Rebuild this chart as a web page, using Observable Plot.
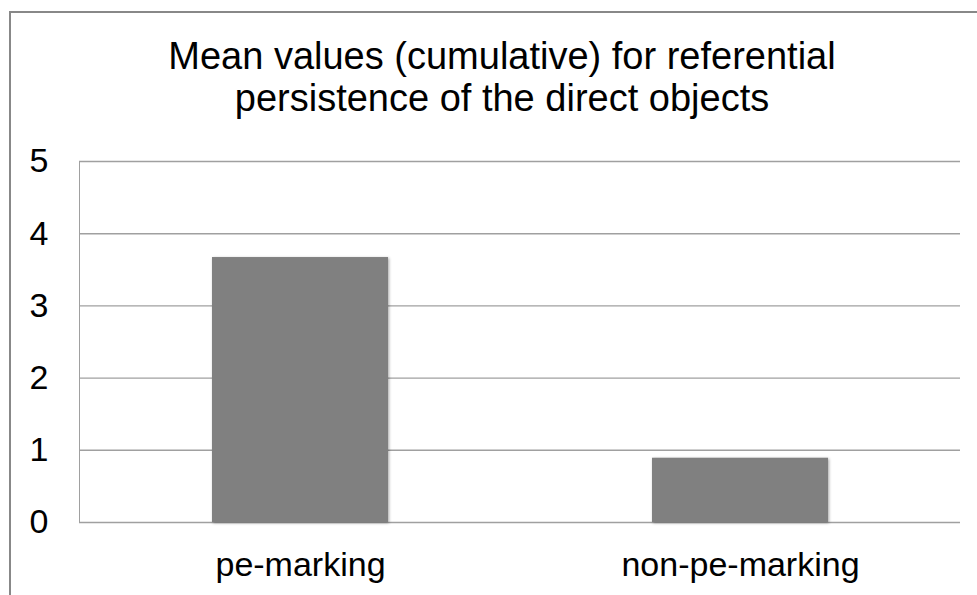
<!DOCTYPE html>
<html>
<head>
<meta charset="utf-8">
<script src="https://cdn.jsdelivr.net/npm/d3@7"></script>
<script src="https://cdn.jsdelivr.net/npm/@observablehq/plot@0.6"></script>
<style>
  html, body { margin: 0; padding: 0; background: #fff; overflow: hidden; }
  #wrap { position: relative; width: 977px; height: 595px; overflow: hidden; font-family: "Liberation Sans", Arial, sans-serif; }
  #frame { position: absolute; left: 9px; top: 11px; width: 1200px; height: 800px; border: 2px solid #888888; box-sizing: border-box; }
  #title { position: absolute; left: 27px; width: 950px; top: 35px; text-align: center; font-size: 38px; line-height: 42px; color: #000; }
  #chart { position: absolute; left: 0; top: 0; }
  #chart svg text { fill: #000; }
  #chart svg g[aria-label="bar"] rect { filter: drop-shadow(1px 1px 1.5px rgba(0,0,0,0.35)); }
</style>
</head>
<body>
<div id="wrap">
  <div id="frame"></div>
  <div id="title">Mean values (cumulative) for referential<br>persistence of the direct objects</div>
  <div id="chart"></div>
</div>
<script>
const categories = ["pe-marking", "non-pe-marking"];
const values = [3.67, 0.89];
const yTicks = [0, 1, 2, 3, 4, 5];

const data = categories.map((c, i) => ({category: c, value: values[i]}));

const chart = Plot.plot({
  width: 977,
  height: 595,
  marginLeft: 79,
  marginRight: 17,
  marginTop: 161,
  marginBottom: 73,
  style: {fontFamily: "Liberation Sans, Arial, sans-serif", fontSize: "34px", color: "#a0a0a0", background: "transparent", overflow: "visible"},
  x: {domain: categories, paddingInner: 0.6, paddingOuter: 0.3, label: null, tickSize: 0, tickPadding: 29},
  y: {domain: [0, 5], ticks: yTicks, tickFormat: d3.format("d"), label: null, tickSize: 0, tickPadding: 31, line: true},
  marks: [
    Plot.ruleY(yTicks, {stroke: "#a0a0a0", strokeWidth: 1.4}),
    Plot.barY(data, {x: "category", y: "value", fill: "#808080"})
  ]
});
document.getElementById("chart").appendChild(chart);
</script>
</body>
</html>
